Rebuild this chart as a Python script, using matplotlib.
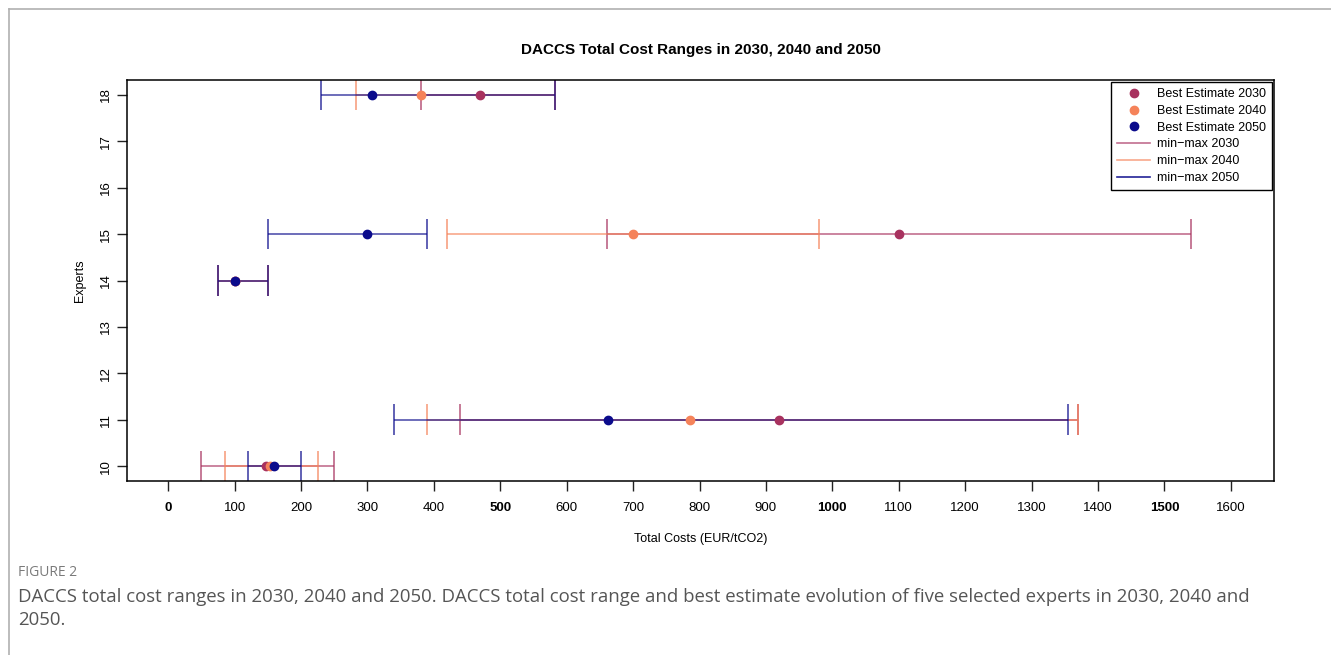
import numpy as np
import matplotlib.pyplot as plt
from matplotlib.lines import Line2D

plt.rcParams['font.family'] = ['Liberation Sans', 'DejaVu Sans']

# expert ids and cost estimates (EUR/tCO2) per target year
experts = [10, 11, 14, 15, 18]

min_2030 = [50, 440, 75, 660, 380]
best_2030 = [148, 920, 100, 1100, 470]
max_2030 = [250, 1370, 150, 1540, 582]

min_2040 = [85, 390, 75, 420, 283]
best_2040 = [153, 785, 100, 700, 380]
max_2040 = [225, 1370, 150, 980, 582]

min_2050 = [120, 340, 75, 150, 230]
best_2050 = [160, 662, 100, 300, 307]
max_2050 = [200, 1355, 150, 390, 582]

x_ticks = list(range(0, 1700, 100))
y_ticks = list(range(10, 19))

c2030 = '#A8325F'
c2040 = '#F5835A'
c2050 = '#0B0B8C'
cap = 0.33

fig = plt.figure(figsize=(13.31, 6.55), dpi=100)
ax = fig.add_axes([127/1331, 1 - 481/655, (1274 - 127)/1331, (481 - 80)/655])

series = [(min_2030, best_2030, max_2030, c2030),
          (min_2040, best_2040, max_2040, c2040),
          (min_2050, best_2050, max_2050, c2050)]

y = np.array(experts)
for lo, best, hi, c in series:
    ax.hlines(y, lo, hi, colors=c, lw=1.4, alpha=0.6, zorder=2)
    ax.vlines(lo, y - cap, y + cap, colors=c, lw=1.3, alpha=0.7, zorder=2)
    ax.vlines(hi, y - cap, y + cap, colors=c, lw=1.3, alpha=0.7, zorder=2)
for lo, best, hi, c in series:
    ax.plot(best, y, 'o', ms=6, color=c, mec=c, ls='none', zorder=3)

ax.set_xlim(-62, 1665)
ax.set_ylim(9.68, 18.32)
ax.set_xticks(x_ticks)
ax.set_yticks(y_ticks)
ax.set_xticklabels([str(v) for v in x_ticks], fontsize=9.5)
for lab, v in zip(ax.get_xticklabels(), x_ticks):
    if v % 500 == 0:
        lab.set_fontweight('bold')
ax.set_yticklabels([str(v) for v in y_ticks], fontsize=9.5, rotation=90, va='center')
ax.tick_params(axis='x', length=7, width=1, color='#222222', pad=8)
ax.tick_params(axis='y', length=7, width=1, color='#222222', pad=4)
for s in ax.spines.values():
    s.set_linewidth(1.1)

ax.set_xlabel('Total Costs (EUR/tCO2)', fontsize=9, labelpad=14)
ax.set_ylabel('Experts', fontsize=9, labelpad=10)
ax.set_title('DACCS Total Cost Ranges in 2030, 2040 and 2050',
             fontsize=11, fontweight='bold', pad=19)

handles = [
    Line2D([], [], marker='o', ls='none', ms=6, color=c2030),
    Line2D([], [], marker='o', ls='none', ms=6, color=c2040),
    Line2D([], [], marker='o', ls='none', ms=6, color=c2050),
    Line2D([], [], lw=1.2, color=c2030, alpha=0.7),
    Line2D([], [], lw=1.2, color=c2040, alpha=0.7),
    Line2D([], [], lw=1.2, color=c2050, alpha=0.9),
]
labels = ['Best Estimate 2030', 'Best Estimate 2040', 'Best Estimate 2050',
          'min\u2212max 2030', 'min\u2212max 2040', 'min\u2212max 2050']
leg = ax.legend(handles, labels, loc='upper right', fontsize=9, fancybox=False,
                edgecolor='black', framealpha=1, borderaxespad=0.15,
                handlelength=2.6, labelspacing=0.38, borderpad=0.5,
                handletextpad=0.55)
leg.get_frame().set_linewidth(1.0)

# page frame and caption
fig.add_artist(Line2D([9/1331, 1], [1 - 9/655, 1 - 9/655], color='#b0b0b0', lw=1.2))
fig.add_artist(Line2D([9/1331, 9/1331], [0, 1 - 9/655], color='#b0b0b0', lw=1.2))
fig.text(18/1331, 1 - 573/655, 'FIGURE 2', fontsize=10, color='#7a7a7a',
         family='Open Sans', va='center')
fig.text(18/1331, 1 - 597/655,
         'DACCS total cost ranges in 2030, 2040 and 2050. DACCS total cost range and '
         'best estimate evolution of five selected experts in 2030, 2040 and',
         fontsize=13.4, color='#555555', family='Open Sans', va='center')
fig.text(18/1331, 1 - 620/655, '2050.', fontsize=13.4, color='#555555',
         family='Open Sans', va='center')

fig.savefig('out.png', dpi=100)
